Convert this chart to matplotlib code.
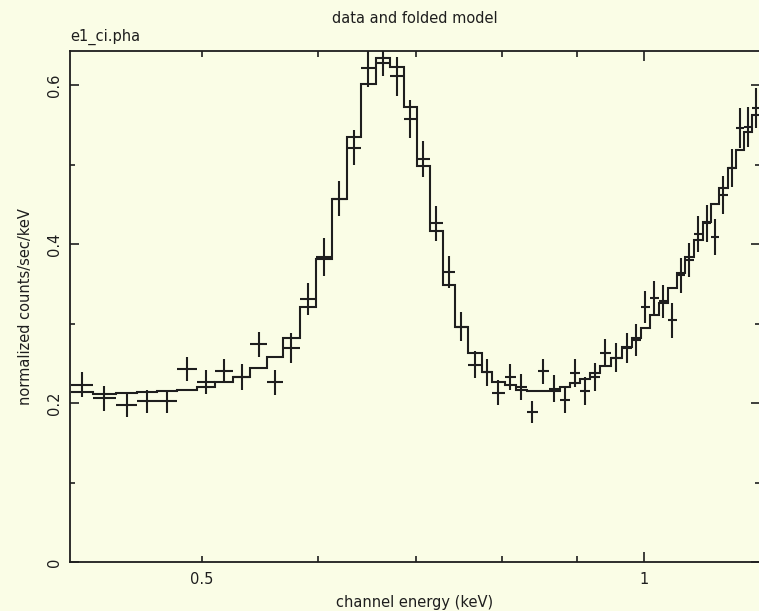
import numpy as np
import matplotlib
matplotlib.use("Agg")
import matplotlib.pyplot as plt
from matplotlib.ticker import FixedLocator, FixedFormatter, NullFormatter

# Données ======================================================================
# bords des canaux (keV)
edges = [0.4072, 0.4213, 0.4369, 0.4515, 0.4659, 0.4808, 0.4961, 0.5103, 0.5249,
         0.5391, 0.5537, 0.5677, 0.5831, 0.5979, 0.6131, 0.6277, 0.6416, 0.6569,
         0.6714, 0.6864, 0.7005, 0.7149, 0.7296, 0.7435, 0.7588, 0.7757, 0.7879,
         0.8041, 0.8181, 0.8324, 0.8469, 0.8616, 0.8766, 0.8904, 0.9045, 0.9188,
         0.9333, 0.9496, 0.9661, 0.9814, 0.9953, 1.0094, 1.0238, 1.0383, 1.0531,
         1.0664, 1.0816, 1.0969, 1.1108, 1.1248, 1.1408, 1.1552, 1.1698, 1.1846,
         1.1995]
# comptes normalisés (counts/sec/keV)
rate = [0.223, 0.206, 0.197, 0.202, 0.202, 0.243, 0.226, 0.240, 0.233, 0.274,
        0.226, 0.269, 0.331, 0.384, 0.457, 0.521, 0.621, 0.628, 0.611, 0.557,
        0.507, 0.426, 0.365, 0.296, 0.248, 0.239, 0.213, 0.233, 0.220, 0.189,
        0.240, 0.218, 0.204, 0.238, 0.215, 0.233, 0.263, 0.257, 0.269, 0.279,
        0.321, 0.332, 0.328, 0.304, 0.361, 0.380, 0.413, 0.426, 0.409, 0.462,
        0.496, 0.546, 0.547, 0.571]
rate_err = [0.016, 0.016, 0.015, 0.015, 0.015, 0.015, 0.015, 0.015, 0.016, 0.016,
            0.016, 0.019, 0.020, 0.024, 0.022, 0.022, 0.023, 0.017, 0.024, 0.024,
            0.023, 0.022, 0.020, 0.018, 0.017, 0.017, 0.016, 0.016, 0.016, 0.014,
            0.016, 0.017, 0.017, 0.018, 0.018, 0.018, 0.018, 0.018, 0.019, 0.020,
            0.020, 0.021, 0.021, 0.022, 0.022, 0.022, 0.023, 0.023, 0.023, 0.024,
            0.024, 0.025, 0.025, 0.025]
# modèle replié
model = [0.214, 0.212, 0.213, 0.214, 0.215, 0.216, 0.220, 0.226, 0.233, 0.244,
         0.258, 0.282, 0.321, 0.381, 0.457, 0.535, 0.601, 0.634, 0.623, 0.572,
         0.498, 0.416, 0.348, 0.296, 0.263, 0.239, 0.227, 0.223, 0.217, 0.215,
         0.215, 0.215, 0.220, 0.225, 0.230, 0.238, 0.247, 0.257, 0.270, 0.282,
         0.294, 0.311, 0.326, 0.345, 0.364, 0.384, 0.405, 0.428, 0.450, 0.470,
         0.496, 0.518, 0.541, 0.562]

xticks_major = [1.0]
xticks_minor = [0.5, 0.6, 0.7, 0.8, 0.9]
yticks_major = [0, 0.2, 0.4, 0.6]
yticks_minor = [0.1, 0.3, 0.5]

# Figure =======================================================================
bg = '#fafde6'
ink = '#1e1e1e'
plt.rcParams['font.family'] = ['DejaVu Sans']

fig = plt.figure(figsize=(7.59, 6.11), dpi=100, facecolor=bg)
ax = fig.add_axes([70/759, 49/611, 690/759, 511/611], facecolor=bg)

e = np.array(edges)
lo, hi = e[:-1], e[1:]
xc = 0.5*(lo+hi)

ax.stairs(model, e, baseline=None, color=ink, lw=1.5)
ax.errorbar(xc, rate, xerr=[xc-lo, hi-xc], yerr=rate_err, fmt='none',
            ecolor=ink, elinewidth=1.5, capsize=0)

ax.set_xscale('log')
ax.set_xlim(0.4065, 1.2)
ax.set_ylim(0, 0.643)

ax.xaxis.set_major_locator(FixedLocator(xticks_major))
ax.xaxis.set_major_formatter(FixedFormatter(['1']))
ax.xaxis.set_minor_locator(FixedLocator(xticks_minor))
ax.xaxis.set_minor_formatter(FixedFormatter(['0.5', '', '', '', '']))
ax.yaxis.set_major_locator(FixedLocator(yticks_major))
ax.yaxis.set_major_formatter(FixedFormatter(['0', '0.2', '0.4', '0.6']))
ax.yaxis.set_minor_locator(FixedLocator(yticks_minor))
ax.yaxis.set_minor_formatter(NullFormatter())

ax.tick_params(which='both', direction='in', top=True, right=True,
               color=ink, width=1.2, labelcolor=ink, labelsize=10.5)
ax.tick_params(axis='x', which='major', length=7.5, pad=7)
ax.tick_params(axis='x', which='minor', length=4, pad=7)
ax.tick_params(axis='y', which='major', length=6.5, pad=6)
ax.tick_params(axis='y', which='minor', length=3.5)
for lab in ax.get_yticklabels():
    lab.set_rotation(90)
    lab.set_va('center')

for s in ax.spines.values():
    s.set_color(ink)
    s.set_linewidth(1.3)

ax.set_xlabel('channel energy (keV)', fontsize=10.5, color=ink, labelpad=6)
ax.set_ylabel('normalized counts/sec/keV', fontsize=10.5, color=ink, labelpad=10)
ax.set_title('data and folded model', fontsize=10.5, color=ink, pad=20)
ax.text(0.0, 1.012, 'e1_ci.pha', transform=ax.transAxes, fontsize=10.5,
        color=ink, ha='left', va='bottom')

fig.savefig('out.png', dpi=100, facecolor=bg)
